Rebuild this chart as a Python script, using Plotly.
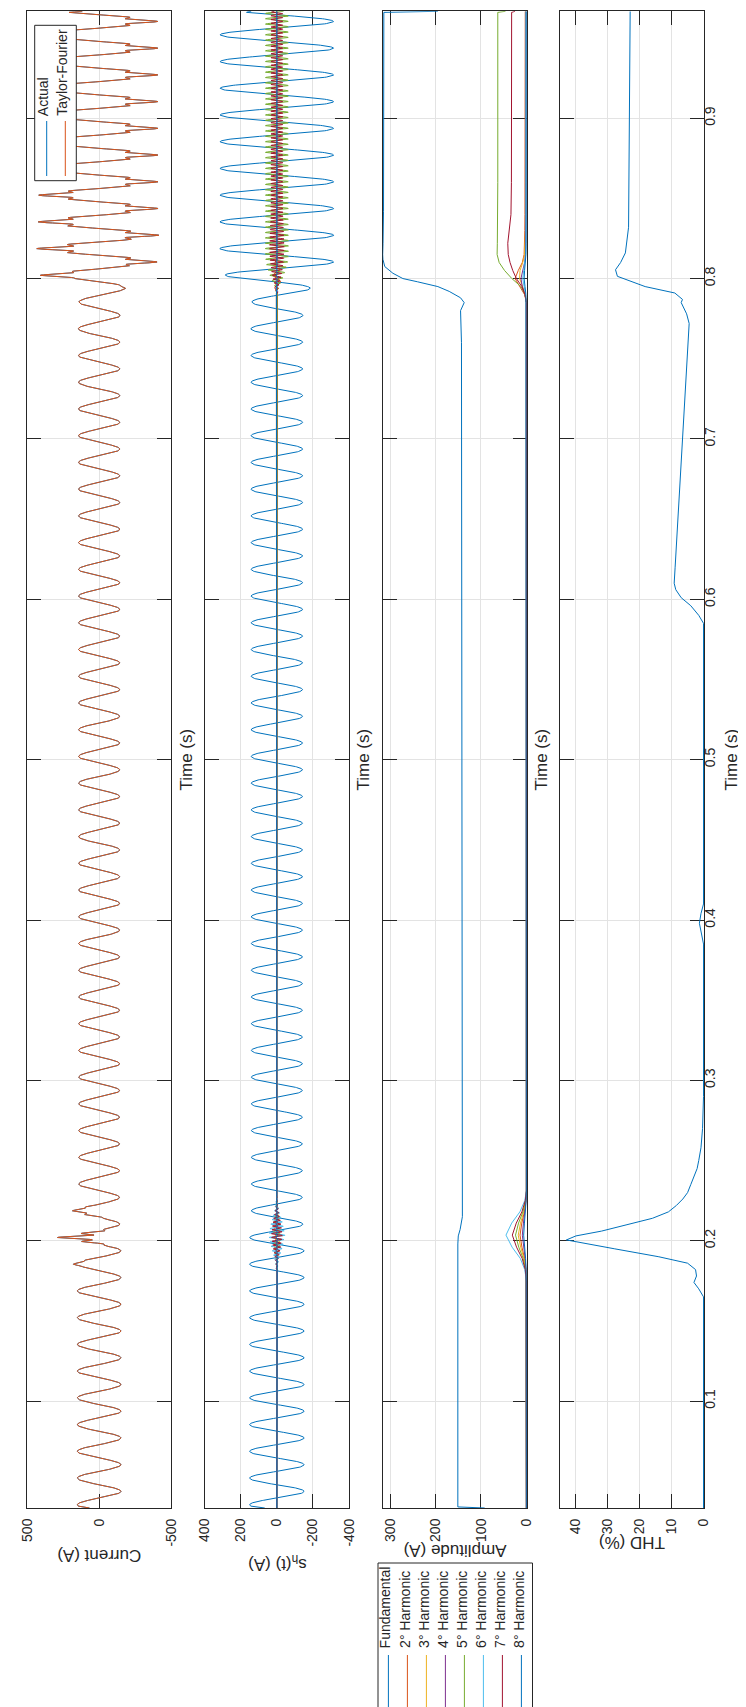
import numpy as np
import plotly.graph_objects as go

W, H = 746, 1707
FONT = "Liberation Sans, Arial, sans-serif"
AX = "#262626"
GRID = "#e3e3e3"
C = ["#0072BD", "#D95319", "#EDB120", "#7E2F8E", "#77AC30", "#4DBEEE", "#A2142F", "#0072BD"]

# ---------------- data ----------------
T_START, T_END = 2 / 60, 58 / 60
TIME_TICKS = [0.1, 0.2, 0.3, 0.4, 0.5, 0.6, 0.7, 0.8, 0.9]
TIME_TICKTEXT = ["0.1", "0.2", "0.3", "0.4", "0.5", "0.6", "0.7", "0.8", "0.9"]
TIME_TITLE = "Time (s)"
F0 = 60.0                # supply frequency (Hz)
PEAK_OFFSET = 0.12       # position of the positive fundamental peak inside a cycle

# amplitude of the fundamental (A)
FUND_T = [0.03334, 0.0340, 0.1980, 0.2030, 0.2070, 0.2150, 0.7600, 0.7800, 0.7850, 0.7880,
          0.7920, 0.7950, 0.7980, 0.8000, 0.8033, 0.8075, 0.8120, 0.8150, 0.8220, 0.8420,
          0.9660, 0.96666]
FUND_AMP = [92, 151, 151, 150, 146, 141, 143, 145, 137, 145,
            170, 195, 240, 272, 294, 312, 316, 316.5, 315.8, 314.7,
            314, 195]

# amplitudes of harmonics 2..8 (A)
HARM_T = [0.03334, 0.175, 0.182, 0.189, 0.196, 0.2035, 0.211, 0.218, 0.225, 0.231,
          0.585, 0.600, 0.610, 0.700, 0.775, 0.785, 0.790, 0.795, 0.800, 0.805,
          0.810, 0.815, 0.822, 0.830, 0.840, 0.860, 0.9660, 0.96666]
H2_AMP = [0, 0, 1.1, 4.2, 9.8, 14, 10.1, 4.5, 1.1, 0,
          0, 0, 0, 0, 0, 0, 4, 15, 25, 18, 9, 5, 4, 3.5, 3.2, 3, 3, 2.5]
H3_AMP = [0, 0, 1.4, 5.4, 12.6, 18, 13, 5.8, 1.4, 0,
          0, 0, 0, 0, 0, 0, 2, 8, 15, 14, 8, 4, 2.5, 2, 2, 2, 2, 1.5]
H4_AMP = [0, 0, 0.7, 2.7, 6.3, 9, 6.5, 2.9, 0.7, 0,
          0, 0, 0, 0, 0, 0, 3, 9, 12, 8, 4, 2, 1.5, 1, 1, 1, 1, 1]
H5_AMP = [0, 0, 1.9, 7.2, 16.8, 24, 17.3, 7.7, 1.9, 0,
          0, 0, 0, 0, 0, 0, 3, 12, 32, 48, 60, 64.5, 64, 63.5, 63.3, 63, 63, 46]
H6_AMP = [0, 0, 3.6, 13.5, 31.5, 45, 32.4, 14.4, 3.6, 0,
          0, 0, 0, 0, 0, 0, 2, 5, 8, 6, 3, 1.5, 1, 1, 1, 1, 1, 0.8]
H7_AMP = [0, 0, 2.5, 9.3, 21.7, 31, 22.3, 9.9, 2.5, 0,
          0, 0, 0, 0, 0, 0, 3, 10, 22, 30, 36, 40, 41, 37.5, 34, 33, 32.5, 25]
H8_AMP = [0, 0, 0.5, 1.8, 4.2, 6, 4.3, 1.9, 0.5, 0,
          0, 0, 0, 0, 0, 0, 1, 3, 5, 4, 2, 1, 0.5, 0.5, 0.5, 0.5, 0.5, 0.4]
HARM_AMPS = [H2_AMP, H3_AMP, H4_AMP, H5_AMP, H6_AMP, H7_AMP, H8_AMP]

# total harmonic distortion (%)
THD_T = [0.03334, 0.165, 0.170, 0.174, 0.178, 0.182, 0.186, 0.190, 0.195, 0.1985,
         0.2005, 0.203, 0.206, 0.210, 0.214, 0.218, 0.222, 0.226, 0.230, 0.235,
         0.240, 0.245, 0.250, 0.258, 0.270, 0.290, 0.385, 0.392, 0.398, 0.404,
         0.410, 0.585, 0.590, 0.596, 0.601, 0.606, 0.610, 0.620, 0.700, 0.765,
         0.772, 0.778, 0.782, 0.785, 0.787, 0.791, 0.795, 0.799, 0.8014, 0.8055,
         0.810, 0.816, 0.824, 0.832, 0.96666]
THD_VAL = [0, 0, 1.5, 3.0, 2.2, 2.5, 5, 14, 28, 38,
           43, 40, 32, 24, 16, 11, 8.5, 6.5, 5, 4,
           3, 2, 1.5, 0.8, 0.3, 0, 0, 0.8, 1.3, 0.8,
           0, 0, 1.5, 4, 7, 8.7, 9.2, 8.9, 6.7, 4.8,
           4.5, 5.3, 6.3, 7.0, 6.6, 9, 18.3, 23.5, 27, 27.6,
           26, 24.5, 24.1, 23.5, 23]

LEGEND_HARM = ["Fundamental", "2° Harmonic", "3° Harmonic", "4° Harmonic",
               "5° Harmonic", "6° Harmonic", "7° Harmonic", "8° Harmonic"]
LEGEND_CUR = ["Actual", "Taylor-Fourier"]
VALUE_TITLES = ["Current (A)", "s<sub>h</sub>(t) (A)", "Amplitude (A)", "THD (%)"]
VALUE_TICKS = [[-500, 0, 500], [-400, -200, 0, 200, 400], [0, 100, 200, 300], [0, 10, 20, 30, 40]]
VALUE_TICKTEXT = [["-500", "0", "500"], ["-400", "-200", "0", "200", "400"],
                  ["0", "100", "200", "300"], ["0", "10", "20", "30", "40"]]
VALUE_RANGES = [[500, -500], [400, -400], [316.5, -1.0], [45, -0.15]]

# ---------------- waveforms built from the read amplitudes ----------------
t = np.append(np.arange(T_START, T_END, 1 / 6000.0), T_END)
theta = 2 * np.pi * (F0 * t - PEAK_OFFSET)
s_list = [np.interp(t, FUND_T, FUND_AMP) * np.cos(theta)]
for k, amps in enumerate(HARM_AMPS):
    h = k + 2
    s_list.append(np.interp(t, HARM_T, amps) * np.cos(h * theta))
current = np.sum(s_list, axis=0)

# ---------------- layout geometry (pixels) ----------------
PANELS_X = [(19.0, 163.3), (196.7, 341.0), (374.7, 518.85), (552.0, 696.0)]
PLOT_TOP, PLOT_BOT = 3.3, 1500.0
ROT_DX = -3.0   # small horizontal correction for rotated legend texts

fig = go.Figure()

def ax_id(i):
    return "" if i == 0 else str(i + 1)

# panel 1: current
fig.add_trace(go.Scatter(x=current, y=t, mode="lines", line=dict(color=C[0], width=1),
                         xaxis="x", yaxis="y", showlegend=False, hoverinfo="skip"))
fig.add_trace(go.Scatter(x=current, y=t, mode="lines", line=dict(color=C[1], width=1),
                         xaxis="x", yaxis="y", showlegend=False, hoverinfo="skip"))
# panel 2: s_h(t)
for k, s in enumerate(s_list):
    fig.add_trace(go.Scatter(x=s, y=t, mode="lines", line=dict(color=C[k], width=1),
                             xaxis="x2", yaxis="y2", showlegend=False, hoverinfo="skip"))
# panel 3: amplitudes
fig.add_trace(go.Scatter(x=FUND_AMP, y=FUND_T, mode="lines", line=dict(color=C[0], width=1),
                         xaxis="x3", yaxis="y3", showlegend=False, hoverinfo="skip"))
for k, amps in enumerate(HARM_AMPS):
    fig.add_trace(go.Scatter(x=amps, y=HARM_T, mode="lines", line=dict(color=C[k + 1], width=1),
                             xaxis="x3", yaxis="y3", showlegend=False, hoverinfo="skip"))
# panel 4: THD
fig.add_trace(go.Scatter(x=THD_VAL, y=THD_T, mode="lines", line=dict(color=C[0], width=1),
                         xaxis="x4", yaxis="y4", showlegend=False, hoverinfo="skip"))

layout = dict(width=W, height=H, margin=dict(l=0, r=0, t=0, b=0),
              paper_bgcolor="white", plot_bgcolor="white", showlegend=False,
              font=dict(family=FONT, color=AX))
for i in range(4):
    x0, x1 = PANELS_X[i]
    layout["xaxis" + ax_id(i)] = dict(
        domain=[x0 / W, x1 / W], anchor="y" + ax_id(i), range=VALUE_RANGES[i],
        tickmode="array", tickvals=VALUE_TICKS[i], ticktext=VALUE_TICKTEXT[i],
        tickangle=-90, ticks="inside", ticklen=14, tickwidth=1, tickcolor=AX,
        showline=True, linecolor=AX, linewidth=1, mirror="ticks",
        showgrid=True, gridcolor=GRID, gridwidth=1, zeroline=False,
        tickfont=dict(size=14, color=AX, family=FONT), layer="below traces",
        ticklabelstandoff=4, automargin=False, fixedrange=True)
    layout["yaxis" + ax_id(i)] = dict(
        domain=[1 - PLOT_BOT / H, 1 - PLOT_TOP / H], anchor="x" + ax_id(i),
        range=[T_START, T_END], tickmode="array", tickvals=TIME_TICKS, ticktext=TIME_TICKTEXT,
        side="right", showticklabels=(i == 3), tickangle=-90,
        ticks="inside", ticklen=14, tickwidth=1, tickcolor=AX,
        showline=True, linecolor=AX, linewidth=1, mirror="ticks",
        showgrid=True, gridcolor=GRID, gridwidth=1, zeroline=False,
        tickfont=dict(size=14, color=AX, family=FONT), layer="below traces",
        ticklabelstandoff=-7, automargin=False, fixedrange=True,
        title=dict(text=TIME_TITLE, standoff=8, font=dict(size=17, color=AX, family=FONT)))
fig.update_layout(**layout)

def ann(text, x, y, angle, size, xanchor="center", yanchor="middle"):
    fig.add_annotation(text=text, x=x / W, y=1 - y / H, xref="paper", yref="paper",
                       showarrow=False, textangle=angle, xanchor=xanchor, yanchor=yanchor,
                       font=dict(size=size, color=AX, family=FONT))

# value-axis titles (upside down)
title_y = [1548, 1555, 1543, 1535]
for i in range(4):
    x0, x1 = PANELS_X[i]
    ann(VALUE_TITLES[i], (x0 + x1) / 2, title_y[i], 180, 17)

def rect(x0, y0, x1, y1):
    fig.add_shape(type="rect", xref="paper", yref="paper", x0=x0 / W, x1=x1 / W,
                  y0=1 - y1 / H, y1=1 - y0 / H, line=dict(color=AX, width=1),
                  fillcolor="white", layer="above")

def vline(x, y0, y1, color):
    fig.add_shape(type="line", xref="paper", yref="paper", x0=x / W, x1=x / W,
                  y0=1 - y1 / H, y1=1 - y0 / H, line=dict(color=color, width=1), layer="above")

# legend of panel 1
rect(26.7, 17.3, 68.3, 172.7)
for k, (name, xc) in enumerate(zip(LEGEND_CUR, [38.7, 57.3])):
    vline(xc, 113, 168, C[k])
    ann(name, xc + ROT_DX, 110, -90, 14, yanchor="bottom")

# legend of harmonics
rect(370.0, 1555.0, 524.5, 1704.0)
for k, name in enumerate(LEGEND_HARM):
    xc = 380.4 + 19.0 * k
    vline(xc, 1647, 1700, C[k])
    ann(name, xc + ROT_DX, 1642, -90, 14, yanchor="bottom")

fig.write_html("out.html")
